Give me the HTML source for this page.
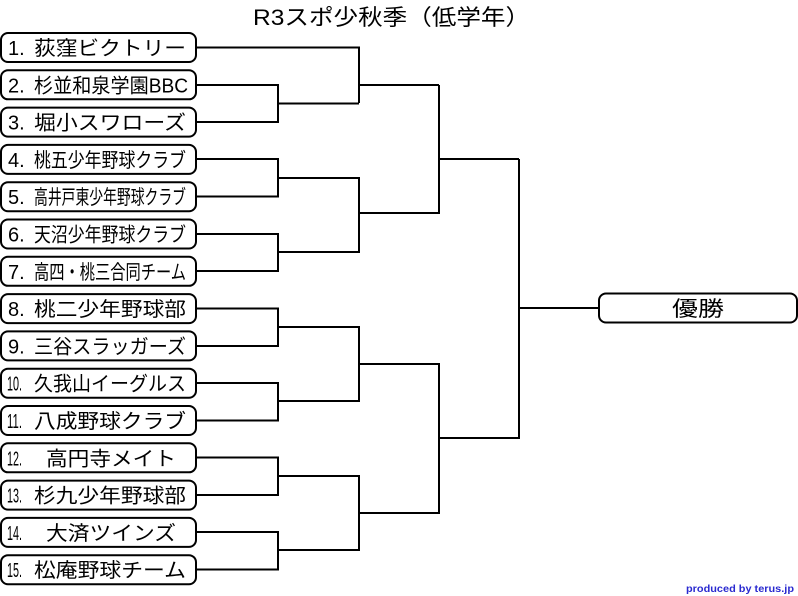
<!DOCTYPE html>
<html><head><meta charset="utf-8"><style>
html,body{margin:0;padding:0;background:#fff;}
svg{display:block;}
text{font-family:"Liberation Sans","Noto Sans CJK JP",sans-serif;fill:#000;}
</style></head><body>
<svg width="798" height="596" viewBox="0 0 798 596" xmlns="http://www.w3.org/2000/svg">
<text x="253" y="25" font-size="22" textLength="277" lengthAdjust="spacingAndGlyphs">R3スポ少秋季（低学年）</text>
<g fill="#fff" stroke="#000" stroke-width="2">
<rect x="1" y="33" width="195" height="29" rx="7"/>
<rect x="1" y="70.3" width="195" height="29" rx="7"/>
<rect x="1" y="107.6" width="195" height="29" rx="7"/>
<rect x="1" y="144.9" width="195" height="29" rx="7"/>
<rect x="1" y="182.2" width="195" height="29" rx="7"/>
<rect x="1" y="219.5" width="195" height="29" rx="7"/>
<rect x="1" y="256.8" width="195" height="29" rx="7"/>
<rect x="1" y="294.1" width="195" height="29" rx="7"/>
<rect x="1" y="331.4" width="195" height="29" rx="7"/>
<rect x="1" y="368.7" width="195" height="29" rx="7"/>
<rect x="1" y="406" width="195" height="29" rx="7"/>
<rect x="1" y="443.3" width="195" height="29" rx="7"/>
<rect x="1" y="480.6" width="195" height="29" rx="7"/>
<rect x="1" y="517.9" width="195" height="29" rx="7"/>
<rect x="1" y="555.2" width="195" height="29" rx="7"/>
<rect x="599" y="293.5" width="198" height="29" rx="7"/>
</g>
<g fill="none" stroke="#000" stroke-width="2">
<polyline points="196,47.5 359,47.5 359,103 "/>
<polyline points="196,85 278,85 278,122 196,122"/>
<line x1="278" y1="103.5" x2="359" y2="103.5"/>
<line x1="359" y1="85" x2="439" y2="85"/>
<polyline points="196,159 278,159 278,196.5 196,196.5"/>
<polyline points="196,234 278,234 278,271 196,271"/>
<polyline points="278,178 359,178 359,252 278,252"/>
<polyline points="439,85 439,213 359,213"/>
<line x1="439" y1="159" x2="519" y2="159"/>
<polyline points="196,308.5 278,308.5 278,346 196,346"/>
<polyline points="196,383 278,383 278,420.5 196,420.5"/>
<polyline points="278,327 359,327 359,401 278,401"/>
<polyline points="196,457.5 278,457.5 278,495 196,495"/>
<polyline points="196,532 278,532 278,569.5 196,569.5"/>
<polyline points="278,476 359,476 359,550 278,550"/>
<polyline points="359,364 439,364 439,513 359,513"/>
<polyline points="439,438 519,438 519,159"/>
<line x1="519" y1="308" x2="599" y2="308"/>
</g>
<g font-size="20">
<text x="8" y="55">1.</text><text x="34" y="55" textLength="152" lengthAdjust="spacingAndGlyphs">荻窪ビクトリー</text>
<text x="8" y="92.3">2.</text><text x="34" y="92.3" textLength="154" lengthAdjust="spacingAndGlyphs">杉並和泉学園BBC</text>
<text x="8" y="129.6">3.</text><text x="34" y="129.6" textLength="152" lengthAdjust="spacingAndGlyphs">堀小スワローズ</text>
<text x="8" y="166.9">4.</text><text x="34" y="166.9" textLength="152" lengthAdjust="spacingAndGlyphs">桃五少年野球クラブ</text>
<text x="8" y="204.2">5.</text><text x="34" y="204.2" textLength="152" lengthAdjust="spacingAndGlyphs">高井戸東少年野球クラブ</text>
<text x="8" y="241.5">6.</text><text x="34" y="241.5" textLength="152" lengthAdjust="spacingAndGlyphs">天沼少年野球クラブ</text>
<text x="8" y="278.8">7.</text><text x="34" y="278.8" textLength="152" lengthAdjust="spacingAndGlyphs">高四・桃三合同チーム</text>
<text x="8" y="316.1">8.</text><text x="34" y="316.1" textLength="152" lengthAdjust="spacingAndGlyphs">桃二少年野球部</text>
<text x="8" y="353.4">9.</text><text x="34" y="353.4" textLength="152" lengthAdjust="spacingAndGlyphs">三谷スラッガーズ</text>
<text x="7" y="390.7" textLength="15" lengthAdjust="spacingAndGlyphs">10.</text><text x="34" y="390.7" textLength="152" lengthAdjust="spacingAndGlyphs">久我山イーグルス</text>
<text x="7" y="428" textLength="15" lengthAdjust="spacingAndGlyphs">11.</text><text x="34" y="428" textLength="152" lengthAdjust="spacingAndGlyphs">八成野球クラブ</text>
<text x="7" y="465.3" textLength="15" lengthAdjust="spacingAndGlyphs">12.</text><text x="46" y="465.3" textLength="130" lengthAdjust="spacingAndGlyphs">高円寺メイト</text>
<text x="7" y="502.6" textLength="15" lengthAdjust="spacingAndGlyphs">13.</text><text x="34" y="502.6" textLength="152" lengthAdjust="spacingAndGlyphs">杉九少年野球部</text>
<text x="7" y="539.9" textLength="15" lengthAdjust="spacingAndGlyphs">14.</text><text x="46" y="539.9" textLength="130" lengthAdjust="spacingAndGlyphs">大済ツインズ</text>
<text x="7" y="577.2" textLength="15" lengthAdjust="spacingAndGlyphs">15.</text><text x="34" y="577.2" textLength="152" lengthAdjust="spacingAndGlyphs">松庵野球チーム</text>
<text x="672" y="316" font-size="21" textLength="52" lengthAdjust="spacingAndGlyphs">優勝</text>
</g>
<text x="686" y="592" font-size="10" font-weight="bold" style="fill:#2a2ad0" textLength="108" lengthAdjust="spacingAndGlyphs">produced by terus.jp</text>
</svg>
</body></html>
